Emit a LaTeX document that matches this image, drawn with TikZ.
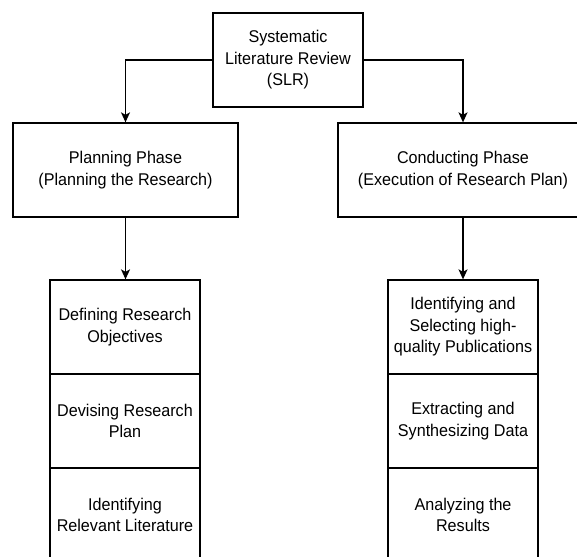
\documentclass[tikz,border=0pt]{standalone}
\usepackage{fontspec}
\setmainfont{Liberation Sans}[FakeStretch=0.95]
\usetikzlibrary{arrows.meta}
\begin{document}
\begin{tikzpicture}[x=1pt,y=-1pt,
  box/.style={draw, line width=1.3pt, minimum width=#1, minimum height=94pt,
    inner sep=0pt, align=center, font=\fontsize{17}{21.5}\selectfont},
  conn/.style={line width=1.3pt, -{Stealth[length=10pt,width=9pt,inset=2.5pt]}}]
\clip (0,0) rectangle (577,556);
\fill[white] (0,0) rectangle (577,556);
% top
\node[box=150pt] (slr) at (288,60) {Systematic\\Literature Review\\(SLR)};
% phases
\node[box=225pt] (plan) at (125.5,170) {Planning Phase\\(Planning the Research)};
\node[box=250pt] (cond) at (463,170) {Conducting Phase\\(Execution of Research Plan)};
% left stack
\node[box=150pt] (l1) at (125,327) {Defining Research\\Objectives};
\node[box=150pt] (l2) at (125,421) {Devising Research\\Plan};
\node[box=150pt] (l3) at (125,515) {Identifying\\Relevant Literature};
% right stack
\node[box=150pt] (r1) at (463,327) {Identifying and\\Selecting high-\\quality Publications};
\node[box=150pt] (r2) at (463,421) {Extracting and\\Synthesizing Data};
\node[box=150pt] (r3) at (463,515) {Analyzing the\\Results};
% connectors
\draw[conn] (slr.west) -| (plan.north);
\draw[conn] (slr.east) -| (cond.north);
\draw[conn] (plan.south) -- (plan.south |- l1.north);
\draw[conn] (cond.south) -- (cond.south |- r1.north);
\end{tikzpicture}
\end{document}
